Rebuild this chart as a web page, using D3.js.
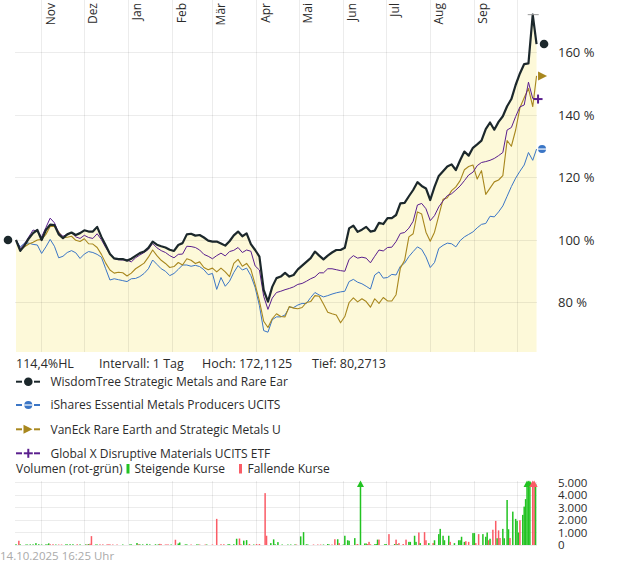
<!DOCTYPE html>
<html><head><meta charset="utf-8">
<script src="https://cdn.jsdelivr.net/npm/d3@7"></script>
<style>
html,body{margin:0;padding:0;background:#fff;}
svg{display:block;font-family:"Open Sans",sans-serif;}
</style></head><body>
<svg id="c" width="620" height="563"></svg>
<script>
// ---------- DATA ----------
const startDate = new Date(2024, 9, 14);
const endDate = new Date(2025, 9, 14, 16, 25);
const stepDays = 3;

const monthTicks = ["2024-11-01","2024-12-01","2025-01-01","2025-02-01","2025-03-01","2025-04-01","2025-05-01","2025-06-01","2025-07-01","2025-08-01","2025-09-01","2025-10-01"];
const monthLabels = ["Nov","Dez","Jan","Feb","Mär","Apr","Mai","Jun","Jul","Aug","Sep",""];

const pctTicks = [80,100,120,140,160];
const volTicks = [0,1000,2000,3000,4000,5000];
const volTickLabels = ["0","1.000","2.000","3.000","4.000","5.000"];

const seriesNames = ["WisdomTree Strategic Metals and Rare Ear","iShares Essential Metals Producers UCITS","VanEck Rare Earth and Strategic Metals U","Global X Disruptive Materials UCITS ETF"];

const wisdomTree = [100,96.5,98.3,100.5,102.2,103.2,100,103.2,104.9,104.8,
101.8,100.6,101.8,102.4,101.6,102.2,103.1,102.7,102.7,104.2,
101,98.3,95.5,94.1,93.9,93.9,93.4,94,94.9,95.8,
96.3,97.5,99.5,98.5,98,97.6,96.9,96.5,98.4,99,
101.8,102,101.4,101.6,100.8,99.8,99.5,99.5,98.9,98.2,
99.6,101.5,102.7,101.2,102.1,98.7,96.8,94.7,84,80.27,
85,87.8,88.3,89.5,88.3,88.8,90.6,91.8,93,94.2,
96.3,95,93.8,95,96,96.8,96.8,97.5,103.7,104.6,
102.6,103.3,104.2,102.7,103,105.5,105.1,107,107,108,
111.7,111.9,114,116,118.5,117.3,116.5,112.8,117,120.5,
122,123.5,124.2,122.4,125.5,128.3,127,129.5,130.6,131.8,
135.5,137.6,135.3,137.8,139.6,142.8,145.1,149.6,153.3,156.3,
156.5,172.11,162.7];

const iShares = [100,97.8,99,99,98.6,98.4,95.7,97.8,100.2,98,
94.3,94.8,96,96.6,95.9,94.1,95.5,96.3,96,95.4,
94.5,90.8,87.2,87.6,87.3,87,86.7,87.6,87.7,88.3,
89.3,90.8,93.6,92.2,90.8,90,88.6,89.3,90.6,92,
92,91.6,91.9,91.5,90.5,88.9,89.3,84.2,88,85.2,
86.8,89.6,91.8,90.4,91,88.6,84.8,79,71,70.5,
74.5,75.4,75.4,76,78.5,78.4,79.2,79.7,79.7,81.6,
83.2,82.4,81.8,82.2,82.7,83.1,83.4,83.6,86.7,87.4,
86.5,86,85.2,84.3,88.8,89.8,87.8,88,89,88.8,
91.6,92.6,94.7,96.3,97.8,97,94.6,91.2,92.8,97.3,
98.3,99,98.8,97.8,99.8,101,101.8,102.6,103.9,105,
105.3,107.6,107.4,109,110.9,114,117.1,119.8,122,124,
128,125.5,129.1];

const vanEck = [100,96.8,97.8,98.7,99.3,100,100.2,101.8,104.3,104.4,
102.6,100.7,100.9,101.2,99.9,99.5,100.4,98.8,98.7,97.6,
95.4,92.6,90.4,89.4,89.7,89.5,88.5,89.4,90.8,91.7,
92.6,94.5,96.8,95,93.5,92.5,91.2,91.5,92.8,92,
94,93.5,92.5,93,91.2,90.5,91,89.8,91,89.8,
88.3,92.5,93.8,91.6,92.5,90.6,85.7,80.5,74,72,
74.8,76.4,75.5,75.4,78.7,78.2,78,78.4,80,80.3,
82.2,82,79.5,76.9,76.4,76,73.5,75.5,80,81.5,
80.2,81.2,80.3,78.5,81.2,79.7,81.6,80.5,80.5,82.5,
91,93.5,101,102,109,108.3,102.5,99.6,102.5,107.8,
113,113.5,115.8,117,119,122.5,123.5,124,119.5,122.2,
114.6,116.6,118.6,119.2,120.6,131.8,130,135.2,142.3,145.5,
148.5,142.7,152.5];

const globalX = [100,97.3,98.8,101,103.2,102.8,101,104,107,105.5,
102.3,101.2,101.8,102.3,101,100.5,101.5,100.8,100.5,102,
100.1,97.6,95.5,94,93.7,93.6,93.6,93,94.3,95.2,
96,97,98.9,97.5,96.6,96,95,94.3,95.4,95.5,
98,97.9,97.6,96.8,95.4,94.8,94,95,95.8,94.9,
96.3,96.7,97.6,96,96.8,96.4,91.7,90.4,82,77.8,
81.4,83.2,83.6,84.1,84.5,85,85.8,86.1,86.8,87.6,
88.2,89.5,89.5,90.8,90.8,90.5,90.2,90,93.8,95,
94.2,94.5,94.2,92.7,94.8,96.8,96.5,97.6,97.7,99.5,
102.1,102.4,103.8,106,111.2,111.7,110,106.2,107.8,110.6,
112.5,114.2,114.8,116,117.3,119,120.8,121.7,123.8,124.8,
125.1,125.5,126.1,127,128,135.2,136,139.5,142.6,143.2,
150.5,145.3,145.1];

// volume: day offset from start, volume, rising(1)/falling(0)
const volumeDays = [0,2,3,7,8,10,12,14,16,18,21,22,23,24,26,28,30,32,35,36,38,40,43,45,49,50,51,52,53,56,57,59,61,64,65,66,68,71,75,80,81,85,86,87,89,92,94,98,100,101,102,105,106,107,109,112,114,115,119,120,123,127,128,129,133,134,138,141,144,146,149,150,153,155,157,158,160,162,164,167,169,171,175,176,179,181,182,184,187,191,193,196,197,200,202,204,205,209,212,214,216,219,220,222,224,226,227,230,231,233,234,238,239,240,242,245,246,247,248,249,252,253,254,255,259,260,262,266,267,268,269,272,274,276,277,280,281,283,284,287,288,290,293,294,297,298,300,301,304,305,308,311,312,313,315,316,318,321,322,323,325,328,330,331,332,333,335,337,338,339,340,342,343,345,346,347,349,351,352,353,354,356,357,358,359,360,361,363,364,365];
const volumeValues = [60,340,50,40,40,50,50,150,60,40,50,40,130,60,60,40,40,40,50,50,60,60,60,50,50,40,70,100,710,40,40,50,50,50,50,50,40,40,40,50,50,160,60,50,50,90,50,60,50,90,60,40,40,40,40,420,120,200,50,50,40,50,40,40,40,40,40,2090,60,60,60,60,60,500,520,60,350,390,80,40,80,80,4150,740,150,450,60,230,40,40,40,50,40,690,1030,60,40,40,40,40,40,80,40,40,460,460,150,40,740,380,340,550,40,80,6000,120,120,80,250,60,60,80,430,430,60,80,870,80,430,60,150,80,430,250,250,740,250,1000,150,1030,380,150,150,380,870,1290,740,380,740,250,150,380,380,660,250,300,250,950,950,150,870,870,660,1000,380,500,1220,1930,540,1170,560,1290,540,3600,1260,560,2670,2090,1930,1000,1980,2410,3070,3670,6000,6000,6000,6000,6000,4900];
const volumeRising = [1,0,1,1,1,1,1,1,1,1,1,1,1,0,0,1,0,0,1,1,1,1,0,1,1,0,1,0,0,1,1,0,0,0,0,0,0,0,1,1,1,1,0,1,1,1,1,1,1,0,0,0,0,0,1,0,1,1,1,1,0,1,1,0,0,1,0,0,0,0,1,1,1,1,0,0,1,1,0,1,0,0,0,0,1,1,1,1,1,1,1,1,0,1,1,1,1,0,0,0,1,1,1,0,0,1,0,1,1,1,1,1,0,0,1,1,1,0,0,0,1,1,1,0,1,1,0,1,0,1,0,0,0,1,1,1,1,0,1,0,0,1,0,1,1,1,1,1,1,0,1,1,1,1,1,0,0,1,1,0,0,1,1,1,0,1,0,0,1,0,0,1,1,1,1,0,1,1,1,1,0,1,1,1,1,1,1,0,0,1,1,0,0];

// ---------- LAYOUT ----------
const svg = d3.select("#c");
const plotL = 16, plotR = 537, plotT = 0, plotB = 352;
const volT = 481, volB = 545;

const sampleDates = wisdomTree.map((v, i) => i < wisdomTree.length - 1 ? d3.timeDay.offset(startDate, stepDays * i) : endDate);

const x = d3.scaleTime().domain([startDate, new Date(2025, 9, 15)]).range([plotL, plotR]);
const y = d3.scaleLinear().domain([100, 160]).range([240, 52.5]);
const yv = d3.scaleLinear().domain([0, 5000]).range([volB, 482.5]);

const gridCol = "rgba(0,0,0,0.075)";
const textCol = "#2b2b2b";
const colors = ["#1c282c", "#3b76c6", "#a8871e", "#5a1f8e"];
const seriesData = [wisdomTree, iShares, vanEck, globalX];

// fill under the top series
const area = d3.area().x((d, i) => x(sampleDates[i])).y0(plotB).y1(d => y(d));
svg.append("path").datum(wisdomTree).attr("d", area).attr("fill", "#fdf9d9");

// grid main
const monthDates = monthTicks.map(s => new Date(s + "T00:00:00"));
svg.append("g").selectAll("line").data(monthDates).join("line")
  .attr("x1", d => x(d)).attr("x2", d => x(d)).attr("y1", plotT).attr("y2", plotB)
  .attr("stroke", gridCol).attr("stroke-width", 1).attr("shape-rendering", "crispEdges");
svg.append("g").selectAll("line").data(pctTicks).join("line")
  .attr("x1", 15).attr("x2", plotR).attr("y1", d => y(d)).attr("y2", d => y(d))
  .attr("stroke", gridCol).attr("stroke-width", 1).attr("shape-rendering", "crispEdges");

// month labels
svg.append("g").selectAll("text").data(monthDates).join("text")
  .attr("transform", d => `translate(${x(d) + 13},3) rotate(-90)`)
  .attr("text-anchor", "end").attr("font-size", 12).attr("fill", textCol)
  .text((d, i) => monthLabels[i]);

// y labels
svg.append("g").selectAll("text").data(pctTicks).join("text")
  .attr("x", 558).attr("y", d => y(d)).attr("dy", "0.35em")
  .attr("font-size", 13).attr("fill", textCol).text(d => d + " %");

// lines
const line = d3.line().x((d, i) => x(sampleDates[i])).y(d => y(d));
const order = [1, 2, 3, 0];
const widths = [2.2, 1, 1.1, 1];
order.forEach(k => {
  svg.append("path").datum(seriesData[k]).attr("d", line).attr("fill", "none")
    .attr("stroke", colors[k]).attr("stroke-width", widths[k]).attr("stroke-linejoin", "round");
});

// high marker
const hiIdx = wisdomTree.indexOf(d3.max(wisdomTree));
svg.append("line").attr("x1", x(sampleDates[hiIdx]) - 5).attr("x2", x(sampleDates[hiIdx]) + 6)
  .attr("y1", y(wisdomTree[hiIdx])).attr("y2", y(wisdomTree[hiIdx])).attr("stroke", "#999").attr("stroke-width", 1);

// start marker
svg.append("circle").attr("cx", x(startDate) - 8).attr("cy", y(wisdomTree[0])).attr("r", 4.3).attr("fill", colors[0]);

// marker shapes
function marker(g, k, cx, cy) {
  if (k === 0) g.append("circle").attr("cx", cx).attr("cy", cy).attr("r", 4.3).attr("fill", colors[0]);
  if (k === 1) {
    g.append("circle").attr("cx", cx).attr("cy", cy).attr("r", 4).attr("fill", colors[1]);
    g.append("line").attr("x1", cx - 4).attr("x2", cx + 4).attr("y1", cy).attr("y2", cy).attr("stroke", "#fff").attr("stroke-width", 1.2);
  }
  if (k === 2) g.append("path").attr("d", `M${cx - 4},${cy - 4.5}L${cx + 5},${cy}L${cx - 4},${cy + 4.5}Z`).attr("fill", colors[2]);
  if (k === 3) {
    g.append("line").attr("x1", cx - 4.5).attr("x2", cx + 4.5).attr("y1", cy).attr("y2", cy).attr("stroke", colors[3]).attr("stroke-width", 2);
    g.append("line").attr("x1", cx).attr("x2", cx).attr("y1", cy - 4.5).attr("y2", cy + 4.5).attr("stroke", colors[3]).attr("stroke-width", 2);
  }
}
const endX = x(endDate);
const endOffsets = [7.5, 5.5, 5.5, 1.5];
seriesData.forEach((s, k) => marker(svg, k, endX + endOffsets[k], y(s[s.length - 1])));

// info line
const fmt = v => d3.format(".4f")(v).replace(".", ",");
const info = svg.append("g").attr("font-size", 12.5).attr("fill", textCol);
const infoTexts = ["114,4%HL", "Intervall: 1 Tag", "Hoch: " + fmt(172.1125), "Tief: " + fmt(80.2713)];
const infoX = [16, 99, 202, 312];
infoTexts.forEach((t, i) => info.append("text").attr("x", infoX[i]).attr("y", 363.5).attr("dy", "0.35em").text(t));

// legend
const legY = [381.7, 405, 429.3, 453.3];
seriesNames.forEach((n, k) => {
  const g = svg.append("g");
  g.append("line").attr("x1", 16).attr("x2", 22).attr("y1", legY[k]).attr("y2", legY[k]).attr("stroke", colors[k]).attr("stroke-width", 2);
  g.append("line").attr("x1", 34).attr("x2", 40).attr("y1", legY[k]).attr("y2", legY[k]).attr("stroke", colors[k]).attr("stroke-width", 2);
  marker(g, k, k === 2 ? 27.5 : 28.3, legY[k]);
  g.append("text").attr("x", 50.5).attr("y", legY[k]).attr("dy", "0.35em").attr("font-size", 12).attr("fill", textCol).text(n);
});

// volume legend
const vl = svg.append("g").attr("font-size", 12).attr("fill", textCol);
vl.append("text").attr("x", 16).attr("y", 468.5).attr("dy", "0.35em").text("Volumen (rot-grün)");
vl.append("rect").attr("x", 126.5).attr("y", 464).attr("width", 3).attr("height", 9.5).attr("fill", "#22c322");
vl.append("text").attr("x", 134.5).attr("y", 468.5).attr("dy", "0.35em").text("Steigende Kurse");
vl.append("rect").attr("x", 239).attr("y", 464).attr("width", 3).attr("height", 9.5).attr("fill", "#fa5c66");
vl.append("text").attr("x", 247.5).attr("y", 468.5).attr("dy", "0.35em").text("Fallende Kurse");

// volume grid
svg.append("g").selectAll("line").data(monthDates).join("line")
  .attr("x1", d => x(d)).attr("x2", d => x(d)).attr("y1", volT).attr("y2", volB)
  .attr("stroke", gridCol).attr("shape-rendering", "crispEdges");
svg.append("g").selectAll("line").data(volTicks).join("line")
  .attr("x1", 15).attr("x2", plotR).attr("y1", d => yv(d)).attr("y2", d => yv(d))
  .attr("stroke", gridCol).attr("shape-rendering", "crispEdges");
svg.append("g").selectAll("text").data(volTicks).join("text")
  .attr("x", 558).attr("y", d => yv(d)).attr("dy", "0.35em").attr("font-size", 11.5).attr("fill", textCol)
  .text((d, i) => volTickLabels[i]);

// volume bars
const vdata = volumeDays.map((d, i) => ({ date: d3.timeDay.offset(startDate, d), v: volumeValues[i], up: volumeRising[i] }));
const vCol = d => d.up ? "#22c322" : "#fa5c66";
svg.append("g").selectAll("rect").data(vdata).join("rect")
  .attr("x", d => x(d.date) - 0.75).attr("width", 1.5)
  .attr("y", d => yv(Math.min(d.v, 5000))).attr("height", d => volB - yv(Math.min(d.v, 5000)))
  .attr("fill", vCol);
svg.append("g").selectAll("path").data(vdata.filter(d => d.v > 5000)).join("path")
  .attr("d", d => { const cx = x(d.date); return `M${cx - 3.5},${487}L${cx + 3.5},${487}L${cx},${480.5}Z`; })
  .attr("fill", vCol);

// timestamp
svg.append("text").attr("x", 0).attr("y", 556).attr("dy", "0.35em").attr("font-size", 11.5).attr("fill", "#aaa").text("14.10.2025 16:25 Uhr");
</script>
</body></html>
